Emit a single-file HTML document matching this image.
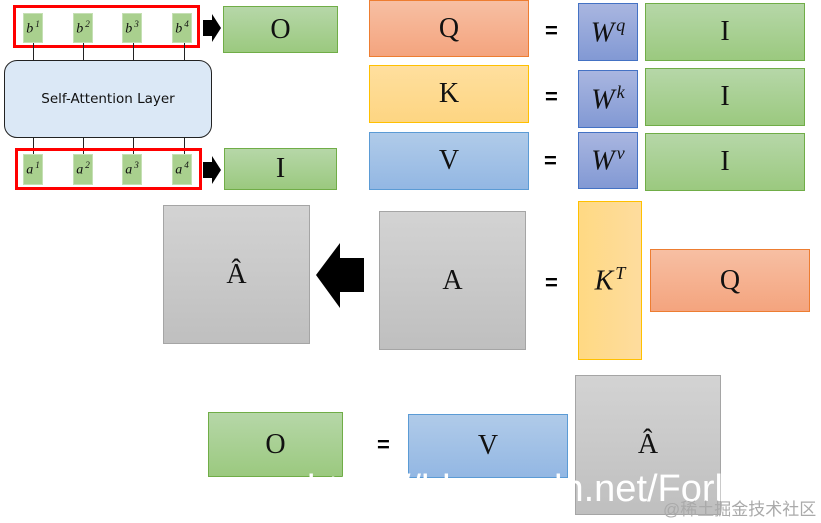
<!DOCTYPE html>
<html><head><meta charset="utf-8"><style>
body{margin:0;width:821px;height:523px;background:#fff;position:relative;overflow:hidden;font-family:"Liberation Serif",serif}
.b{position:absolute;box-sizing:border-box;display:flex;align-items:center;justify-content:center;font-size:28px;color:#111}
.g{background:linear-gradient(#b6d7a8,#9bc97f);border:1px solid #70ad47}
.o{background:linear-gradient(#f7bfa3,#f4a47e);border:1px solid #ed7d31}
.y{background:linear-gradient(#ffdf9e,#fdd582);border:1px solid #ffc000}
.bl{background:linear-gradient(#b0cbe9,#93b7e3);border:1px solid #5b9bd5}
.w{background:linear-gradient(#a9b6e0,#8299d4);border:1px solid #4472c4}
.gr{background:linear-gradient(#d3d3d3,#bfbfbf);border:1px solid #a5a5a5}
.sm{background:#a9d08e;border:1px solid #c5e0b4;font-size:14px;font-style:italic}
.eq{position:absolute;font-family:"Liberation Sans",sans-serif;font-weight:bold;font-size:22px}
.red{position:absolute;border:3px solid #f00;box-sizing:border-box}
.ln{position:absolute;width:1px;background:#222}
i sup{font-size:65%;margin-left:2px}
</style></head><body>
<div class="red" style="left:13px;top:5px;width:187px;height:43px"></div>
<div class="b sm" style="left:23px;top:13px;width:20px;height:30px"><i>b<sup>1</sup></i></div>
<div class="b sm" style="left:73px;top:13px;width:20px;height:30px"><i>b<sup>2</sup></i></div>
<div class="b sm" style="left:122px;top:13px;width:20px;height:30px"><i>b<sup>3</sup></i></div>
<div class="b sm" style="left:172px;top:13px;width:20px;height:30px"><i>b<sup>4</sup></i></div>
<div class="ln" style="left:33px;top:43px;height:17px"></div>
<div class="ln" style="left:83px;top:43px;height:17px"></div>
<div class="ln" style="left:133px;top:43px;height:17px"></div>
<div class="ln" style="left:184px;top:43px;height:17px"></div>
<div class="b" style="left:4px;top:60px;width:208px;height:78px;border:1.5px solid #222;border-radius:13px;background:#dbe8f6;font-family:'DejaVu Sans',sans-serif;font-size:13.5px">Self-Attention Layer</div>
<div class="ln" style="left:33px;top:138px;height:16px"></div>
<div class="ln" style="left:83px;top:138px;height:16px"></div>
<div class="ln" style="left:133px;top:138px;height:16px"></div>
<div class="ln" style="left:184px;top:138px;height:16px"></div>
<div class="red" style="left:15px;top:148px;width:187px;height:42px"></div>
<div class="b sm" style="left:23px;top:154px;width:20px;height:31px"><i>a<sup>1</sup></i></div>
<div class="b sm" style="left:73px;top:154px;width:20px;height:31px"><i>a<sup>2</sup></i></div>
<div class="b sm" style="left:122px;top:154px;width:20px;height:31px"><i>a<sup>3</sup></i></div>
<div class="b sm" style="left:172px;top:154px;width:20px;height:31px"><i>a<sup>4</sup></i></div>
<svg style="position:absolute;left:0;top:0" width="821" height="523">
<polygon points="203,20 212,20 212,14 221,28 212,42 212,36 203,36" fill="#000"/>
<polygon points="203,162 212,162 212,156 221,170 212,184 212,178 203,178" fill="#000"/>
<polygon points="316,275 340,243 340,258 364,258 364,292 340,292 340,308" fill="#000"/>
</svg>
<div class="b g" style="left:223px;top:6px;width:115px;height:47px">O</div>
<div class="b g" style="left:224px;top:148px;width:113px;height:42px">I</div>
<div class="b o" style="left:369px;top:0;width:160px;height:57px">Q</div>
<div class="b y" style="left:369px;top:65px;width:160px;height:58px">K</div>
<div class="b bl" style="left:369px;top:132px;width:160px;height:58px">V</div>
<div class="eq" style="left:545px;top:18px">=</div>
<div class="eq" style="left:545px;top:84px">=</div>
<div class="eq" style="left:544px;top:148px">=</div>
<div class="b w" style="left:578px;top:3px;width:60px;height:58px"><i>W<sup>q</sup></i></div>
<div class="b w" style="left:578px;top:70px;width:60px;height:58px"><i>W<sup>k</sup></i></div>
<div class="b w" style="left:578px;top:132px;width:60px;height:57px"><i>W<sup>v</sup></i></div>
<div class="b g" style="left:645px;top:3px;width:160px;height:58px">I</div>
<div class="b g" style="left:645px;top:68px;width:160px;height:58px">I</div>
<div class="b g" style="left:645px;top:133px;width:160px;height:58px">I</div>
<div class="b gr" style="left:163px;top:205px;width:147px;height:139px">Â</div>
<div class="b gr" style="left:379px;top:211px;width:147px;height:139px">A</div>
<div class="eq" style="left:545px;top:270px">=</div>
<div class="b y" style="left:578px;top:201px;width:64px;height:159px;background:linear-gradient(90deg,#ffd983,#fedc9e)"><i>K<sup>T</sup></i></div>
<div class="b o" style="left:650px;top:249px;width:160px;height:63px">Q</div>
<div class="b g" style="left:208px;top:412px;width:135px;height:65px">O</div>
<div class="eq" style="left:377px;top:432px">=</div>
<div class="b bl" style="left:408px;top:414px;width:160px;height:64px">V</div>
<div class="b gr" style="left:575px;top:375px;width:146px;height:140px">Â</div>
<div style="position:absolute;right:98px;top:468px;text-align:right;font-family:'Liberation Sans',sans-serif;font-size:38px;color:#fff;white-space:nowrap">https://blog.csdn.net/Forl</div>
<div style="position:absolute;left:663px;top:495px;font-family:'Liberation Sans','Noto Sans CJK SC',sans-serif;font-size:17px;color:#aaa;white-space:nowrap">@稀土掘金技术社区</div>
</body></html>
